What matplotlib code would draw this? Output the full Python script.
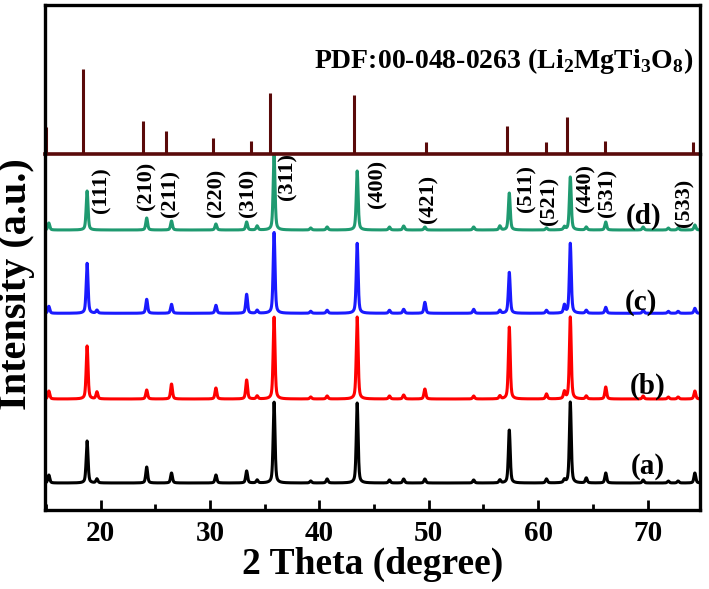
import numpy as np
import matplotlib
matplotlib.use("Agg")
import matplotlib.pyplot as plt
from matplotlib.ticker import MultipleLocator

plt.rcParams['font.family'] = ['Liberation Serif', 'DejaVu Serif']
plt.rcParams['font.weight'] = 'bold'
plt.rcParams['mathtext.fontset'] = 'custom'
plt.rcParams['mathtext.rm'] = 'Liberation Serif:bold'
plt.rcParams['mathtext.bf'] = 'Liberation Serif:bold'

# reference card (PDF 00-048-0263) stick positions / heights
pdf_pos = [15.0, 18.36, 23.82, 25.97, 30.26, 33.77, 35.52, 43.13, 49.76, 57.17, 60.68, 62.63, 66.14, 74.13]
pdf_int = [27.6, 85.3, 33.3, 23.6, 16.0, 13.3, 61.0, 59.0, 12.7, 28.3, 12.7, 37.0, 13.3, 12.7]

# main reflections of the patterns
hkl = ['(111)', '(210)', '(211)', '(220)', '(310)', '(311)', '(400)',
       '(421)', '(511)', '(521)', '(440)', '(531)', '(533)']
peak_pos = [18.75, 24.2, 26.47, 30.53, 33.34, 35.85, 43.45, 49.64, 57.36, 60.76, 62.94, 66.18, 74.33]
hkl_x = [20.1, 24.2, 26.4, 30.6, 33.5, 37.1, 45.3, 50.0, 58.9, 61.0, 64.3, 66.3, 73.4]
hkl_y = [297, 300, 293, 293, 293, 310, 302, 287, 298, 285, 298, 293, 283]

int_a = [42, 16, 10, 8, 12, 81, 80, 4, 53, 4, 81, 10, 10]
int_b = [53, 9, 15, 11, 19, 82, 82, 10, 72, 5, 82, 12, 8]
int_c = [50, 14, 9, 8, 19, 81, 70, 11, 41, 3, 70, 6, 5]
int_d = [39, 12, 9, 6, 8, 75, 59, 3, 37, 2, 53, 8, 5]

# weak extra reflections
minor_pos = [15.25, 19.65, 34.3, 39.2, 40.7, 46.4, 47.7, 54.1, 56.5, 62.4, 64.4, 69.6, 71.9, 72.8]
minor_a = [8, 4, 3, 2, 4, 3, 4, 3, 3, 3, 5, 3, 2, 2]
minor_b = [8, 7, 3, 2, 3, 3, 4, 3, 3, 7, 3, 3, 2, 2]
minor_c = [7, 3, 3, 2, 3, 3, 4, 4, 3, 8, 3, 3, 2, 2]
minor_d = [7, 0, 4, 2, 3, 3, 4, 3, 4, 3, 3, 3, 2, 2]

labels = ['(a)', '(b)', '(c)', '(d)']
offsets = [27, 111, 196.7, 280]
colors = ['black', '#ff0000', '#1a1aff', '#1f9a70']
label_xy = [(70.0, 43.3), (70.0, 123.3), (69.4, 207.3), (69.6, 293.3)]

x = np.linspace(14.9, 74.8, 4000)


def pattern(main, minor):
    y = np.zeros_like(x)
    for p, h in zip(peak_pos + minor_pos, main + minor):
        d = (x - p) / 0.1
        y += h * (0.5 / (1 + d ** 2) + 0.5 * np.exp(-0.693 * d ** 2))
    return y


fig = plt.figure(figsize=(7.09, 5.89), dpi=100)
L, W = 45 / 709, 655 / 709
ax = fig.add_axes([L, 1 - 510 / 589, W, (510 - 154.3) / 589])
ax_top = fig.add_axes([L, 1 - 154.3 / 589, W, (154.3 - 5) / 589])

for main, minor, off, c in zip([int_a, int_b, int_c, int_d],
                               [minor_a, minor_b, minor_c, minor_d], offsets, colors):
    ax.plot(x, pattern(main, minor) + off, color=c, lw=2.2)

for lab, (lx, ly) in zip(labels, label_xy):
    ax.text(lx, ly, lab, fontsize=21, fontweight='bold', ha='center', va='center')

for t, hx, hy in zip(hkl, hkl_x, hkl_y):
    ax.text(hx, hy, t, fontsize=16, fontweight='bold', rotation=90, ha='center', va='bottom')

ax.set_xlim(14.9, 74.8)
ax.set_ylim(0, 355.7)
ax.set_yticks([])
ax.xaxis.set_major_locator(MultipleLocator(10))
ax.xaxis.set_minor_locator(MultipleLocator(5))
ax.tick_params(axis='x', which='major', direction='in', length=7, width=2, labelsize=21, pad=7)
ax.tick_params(axis='x', which='minor', direction='in', length=4, width=2)
for lbl in ax.get_xticklabels():
    lbl.set_fontweight('bold')
ax.spines['top'].set_visible(False)
for s in ['left', 'right', 'bottom']:
    ax.spines[s].set_linewidth(2.4)
ax.set_xlabel('2 Theta (degree)', fontsize=27, fontweight='bold', labelpad=0)
fig.text(17 / 709, 1 - 284 / 589, 'Intensity (a.u.)', fontsize=29, fontweight='bold',
         rotation=90, ha='center', va='center')

# top panel: standard card
ax_top.vlines(pdf_pos, 0, pdf_int, color='#5a0a0a', lw=2.2)
ax_top.axhline(0, color='#5a0a0a', lw=2.6, clip_on=False)
ax_top.set_xlim(14.9, 74.8)
ax_top.set_ylim(0, 149.3)
ax_top.set_xticks([])
ax_top.set_yticks([])
ax_top.spines['bottom'].set_visible(False)
for s in ['left', 'right', 'top']:
    ax_top.spines[s].set_linewidth(2.4)
ax_top.text(74.2, 86, 'PDF:00-048-0263 (Li$_2$MgTi$_3$O$_8$)', fontsize=20,
            fontweight='bold', ha='right', va='baseline')

fig.savefig('out.png', dpi=100)
